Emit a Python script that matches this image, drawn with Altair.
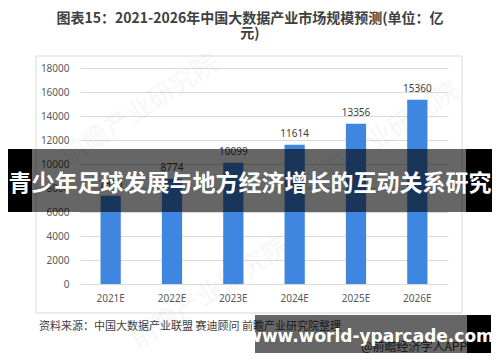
import altair as alt
import pandas as pd

years = ["2021E", "2022E", "2023E", "2024E", "2025E", "2026E"]
values = [7350, 8774, 10099, 11614, 13356, 15360]
y_ticks = [0, 2000, 4000, 6000, 8000, 10000, 12000, 14000, 16000, 18000]

title_line1 = "图表15：2021-2026年中国大数据产业市场规模预测(单位：亿"
title_line2 = "元)"
banner_text = "青少年足球发展与地方经济增长的互动关系研究"
site_text = "www.world-yparcade.com"
source_text = "资料来源：中国大数据产业联盟 赛迪顾问 前瞻产业研究院整理"
app_text = "@前瞻经济学人APP"
watermark = "前瞻产业研究院"

CJK = "Noto Sans CJK SC"
df = pd.DataFrame({"year": years, "value": values})
one = alt.Data(values=[{"k": 1}])

W, H = 368, 216


def deco():
    return alt.Chart(one)


frame = deco().mark_rect(fillOpacity=0, stroke="#d9d9d9", strokeWidth=1).encode(
    x=alt.value(-44), x2=alt.value(382), y=alt.value(-12), y2=alt.value(245)
)

wm = []
for (wx, wy) in [(60, 42), (300, 70), (130, 225)]:
    wm.append(
        deco().mark_text(text=watermark, font=CJK, fontSize=26,
                         color="#000000", opacity=0.03, angle=327).encode(
            x=alt.value(wx), y=alt.value(wy))
    )

x_enc = alt.X("year:N", sort=years, title=None,
              scale=alt.Scale(paddingInner=0.67, paddingOuter=0.335),
              axis=alt.Axis(labelAngle=0, domain=False, ticks=False, labelPadding=9,
                            labelColor="#595959", labelFontSize=10, labelFont="Noto Sans"))
y_enc = alt.Y("value:Q", title=None,
              scale=alt.Scale(domain=[0, 18000], nice=False),
              axis=alt.Axis(values=y_ticks, format="d", domain=False, ticks=False,
                            labelOverlap=False, labelPadding=11, labelColor="#595959",
                            labelFontSize=10, labelFont="Noto Sans", gridColor="#d9d9d9"))

bars = alt.Chart(df).mark_bar(color="#3f86e0").encode(x=x_enc, y=y_enc)

labels = alt.Chart(df).mark_text(dy=-11, fontSize=10, color="#404040", font="Noto Sans").encode(
    x=x_enc,
    y=y_enc,
    text=alt.Text("value:Q", format="d"),
)

t1 = deco().mark_text(text=title_line1, font=CJK, fontSize=14, fontWeight="bold",
                      color="#404040").encode(x=alt.value(170), y=alt.value(-49))
t2 = deco().mark_text(text=title_line2, font=CJK, fontSize=14, fontWeight="bold",
                      color="#404040").encode(x=alt.value(170), y=alt.value(-34))

band_l = deco().mark_rect(color="black").encode(
    x=alt.value(-72), x2=alt.value(-48), y=alt.value(81), y2=alt.value(144))
band_r = deco().mark_rect(color="black").encode(
    x=alt.value(386), x2=alt.value(412), y=alt.value(81), y2=alt.value(144))
band_m = deco().mark_rect(color="black", opacity=0.6).encode(
    x=alt.value(-48), x2=alt.value(386), y=alt.value(81), y2=alt.value(144))
band_t = deco().mark_text(text=banner_text, font=CJK, fontSize=23, fontWeight="bold",
                          color="white").encode(x=alt.value(170), y=alt.value(116))

src = deco().mark_text(text=source_text, font=CJK, fontSize=11, color="#404040",
                       align="left").encode(x=alt.value(-41), y=alt.value(259))

site_m = deco().mark_rect(color="black", opacity=0.6).encode(
    x=alt.value(175), x2=alt.value(387), y=alt.value(247), y2=alt.value(285))
site_r = deco().mark_rect(color="black").encode(
    x=alt.value(387), x2=alt.value(411), y=alt.value(247), y2=alt.value(285))
app = deco().mark_text(text=app_text, font=CJK, fontSize=12, color="#333333",
                       align="right").encode(x=alt.value(387), y=alt.value(279))
site_t = deco().mark_text(text=site_text, font="DejaVu Sans", fontSize=17, fontWeight="bold",
                          color="white").encode(x=alt.value(290), y=alt.value(269))

chart = alt.layer(
    frame, *wm, bars, labels, t1, t2, src, band_m, band_l, band_r, band_t,
    app, site_m, site_r, site_t
).properties(
    width=W, height=H,
    autosize=alt.AutoSizeParams(type="none"),
    padding={"left": 72, "top": 60, "right": 44, "bottom": 70},
    background="white",
).configure_view(stroke=None)

chart.save("out.html", embed_options={"renderer": "svg", "actions": False})
